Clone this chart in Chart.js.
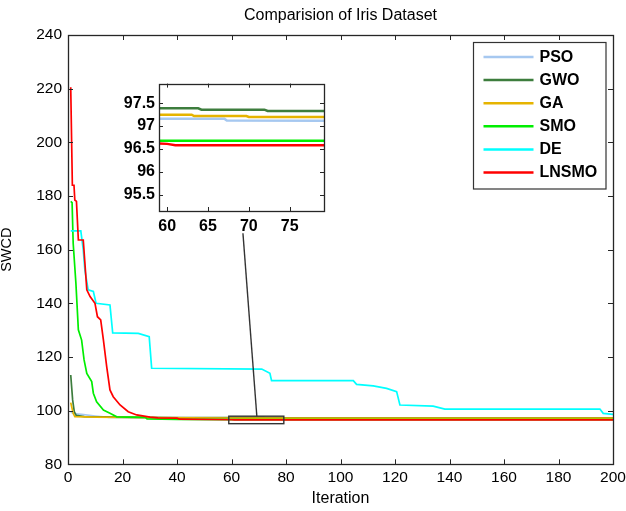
<!DOCTYPE html>
<html><head><meta charset="utf-8">
<script src="https://cdn.jsdelivr.net/npm/chart.js@4.4.0/dist/chart.umd.min.js"></script>
<style>
html,body{margin:0;padding:0;background:#fff;}
#wrap{position:relative;width:626px;height:511px;overflow:hidden;}
#main{position:absolute;left:0;top:0;}
#inset{position:absolute;left:100px;top:70px;}
</style></head><body>
<div id="wrap"><canvas id="main" width="626" height="511"></canvas><canvas id="inset" width="235" height="172"></canvas></div>
<script>
// ---- data ----
const seriesNames  = ['PSO','GWO','GA','SMO','DE','LNSMO'];
const seriesColors = ['#a6c8f0','#3d7d3d','#e6b400','#00ee00','#00ffff','#ff0000'];

const psoIter = [1,2,5,10,15,25,59,67,67.3,200];
const psoVal  = [99.6,98.9,98.6,98.0,97.5,97.3,97.16,97.16,97.12,97.1];

const gwoIter = [1,1.7,2.3,3,6,20,40,59,63.8,64.2,71.9,72.3,200];
const gwoVal  = [113.3,104,99.6,98.2,97.8,97.6,97.45,97.39,97.39,97.36,97.36,97.33,97.3];

const gaIter = [1,1.9,2.5,10,30,59,63,63.3,69.7,70,200];
const gaVal  = [103,99,97.8,97.6,97.4,97.25,97.25,97.22,97.22,97.2,97.18];

const smoIter = [1,1.5,1.9,2.9,3.8,5,5.9,6.9,8.7,9.3,10.5,13,15.4,17.9,22,28.4,29,40,59,200];
const smoVal  = [178,177.5,162.4,147.5,130.1,126.3,118.9,113.9,110.8,106.5,103.3,100.2,99,97.7,97.6,97.5,96.9,96.75,96.68,96.66];

const deIter = [1,4.7,5.6,6.2,7.4,9.3,10.3,15.4,16.4,25.8,29.8,30.7,71.1,74.1,74.7,104.7,105.9,112,116.9,120.6,121.8,134,138.3,195.2,196.4,200];
const deVal  = [167,167,159.9,152.4,145,144.4,140,139.4,129,128.8,127.6,115.8,115.5,113.9,111.2,111.2,109.8,109.2,108.3,107.1,102.1,101.7,100.6,100.6,99,98.6];

const lnsmoIter = [1,1.6,2.2,2.5,3.1,3.8,5.6,6.9,8.1,9.9,10.8,12,13,14.2,15.4,16.6,19.1,22.1,25.2,30.1,33,40,41,60,61,200];
const lnsmoVal  = [220.5,184,184,178.5,178,163.6,163.6,145,142.5,140,135,133.8,126.3,116.4,107.7,105.2,102.1,99.6,98.4,97.6,97.3,97.2,96.8,96.61,96.58,96.56];

const mainXTicks  = [0,20,40,60,80,100,120,140,160,180,200];
const mainYTicks  = [80,100,120,140,160,180,200,220,240];
const insetXTicks = [60,65,70,75];
const insetYTicks = [95.5,96,96.5,97,97.5];

const mainRange  = {xMin:0, xMax:200, yMin:80, yMax:240};
const insetRange = {xMin:59, xMax:79.2, yMin:95.14, yMax:97.93};
const connector  = {x0:69.3, y0:97.93, x1:64.2, y1:166.1};

const allIter = [psoIter,gwoIter,gaIter,smoIter,deIter,lnsmoIter];
const allVal  = [psoVal,gwoVal,gaVal,smoVal,deVal,lnsmoVal];

const FAMILY = "'Liberation Sans', Arial, sans-serif";
const AXIS = '#262626';

function makeDatasets(width){
  return seriesNames.map((n,i)=>({
    label:n,
    data: allIter[i].map((x,j)=>({x:x,y:allVal[i][j]})),
    borderColor: seriesColors[i],
    backgroundColor: seriesColors[i],
    borderWidth: width,
    pointRadius: 0,
    tension: 0,
    fill: false,
    order: 5 - i
  }));
}

function framePlugin(len){
  return {
    id:'frame'+len,
    afterDatasetsDraw(chart){
      const {ctx, chartArea:a, scales:{x,y}} = chart;
      ctx.save();
      ctx.strokeStyle = AXIS; ctx.lineWidth = 1;
      ctx.beginPath();
      x.ticks.forEach(t=>{
        const p = Math.round(x.getPixelForValue(t.value))+0.5;
        ctx.moveTo(p,a.bottom); ctx.lineTo(p,a.bottom-len);
        ctx.moveTo(p,a.top); ctx.lineTo(p,a.top+len);
      });
      y.ticks.forEach(t=>{
        const p = Math.round(y.getPixelForValue(t.value))+0.5;
        ctx.moveTo(a.left,p); ctx.lineTo(a.left+len,p);
        ctx.moveTo(a.right,p); ctx.lineTo(a.right-len,p);
      });
      ctx.stroke();
      ctx.lineWidth = 1.3;
      ctx.strokeRect(Math.round(a.left)+0.5, Math.round(a.top)+0.5, Math.round(a.right-a.left), Math.round(a.bottom-a.top));
      ctx.restore();
    }
  };
}

const zoomPlugin = {
  id:'zoomMark',
  afterDatasetsDraw(chart){
    const {ctx, scales:{x,y}} = chart;
    ctx.save();
    ctx.strokeStyle = '#333'; ctx.lineWidth = 1.4;
    const l = x.getPixelForValue(insetRange.xMin), r = x.getPixelForValue(insetRange.xMax);
    const t = y.getPixelForValue(insetRange.yMax), b = y.getPixelForValue(insetRange.yMin);
    ctx.strokeRect(l, t, r-l, b-t);
    ctx.beginPath();
    ctx.moveTo(x.getPixelForValue(connector.x0), y.getPixelForValue(connector.y0));
    ctx.lineTo(x.getPixelForValue(connector.x1), y.getPixelForValue(connector.y1));
    ctx.stroke();
    ctx.restore();
  }
};

const legendPlugin = {
  id:'boxLegend',
  afterDraw(chart){
    const {ctx, chartArea:a} = chart;
    const w = 132.5, h = 146.5;
    const bx = a.right - 7 - w, by = a.top + 7.5;
    ctx.save();
    ctx.fillStyle = '#fff';
    ctx.fillRect(bx, by, w, h);
    ctx.strokeStyle = '#333'; ctx.lineWidth = 1.2;
    ctx.strokeRect(bx, by, w, h);
    ctx.font = "bold 16px " + FAMILY;
    ctx.textBaseline = 'middle';
    ctx.textAlign = 'left';
    chart.data.datasets.forEach((ds,i)=>{
      const yy = by + 14.5 + i*23.1;
      ctx.strokeStyle = ds.borderColor; ctx.lineWidth = 2.5;
      ctx.beginPath(); ctx.moveTo(bx+10, yy); ctx.lineTo(bx+60, yy); ctx.stroke();
      ctx.fillStyle = '#000';
      ctx.fillText(ds.label, bx+66, yy+0.5);
    });
    ctx.restore();
  }
};

new Chart(document.getElementById('main'), {
  type:'line',
  data:{datasets: makeDatasets(1.7)},
  options:{
    responsive:false, animation:false, devicePixelRatio:1,
    layout:{padding:{left:0,right:13,top:0,bottom:0}},
    plugins:{
      legend:{display:false}, tooltip:{enabled:false},
      title:{display:true, text:'Comparision of Iris Dataset', fullSize:false, color:'#000',
        font:{family:FAMILY, size:16, weight:'normal', lineHeight:1.2}, padding:{top:5.8,bottom:10}}
    },
    scales:{
      x:{type:'linear', min:mainRange.xMin, max:mainRange.xMax,
        grid:{display:false, drawTicks:false}, border:{display:false},
        afterBuildTicks:s=>{s.ticks = mainXTicks.map(v=>({value:v}));},
        afterFit:s=>{s.height = 46.7; s.paddingLeft = 0; s.paddingRight = 0;},
        ticks:{autoSkip:false, maxRotation:0, padding:4, color:'#000', font:{family:FAMILY,size:15.5}, callback:v=>String(v)},
        title:{display:true, text:'Iteration', color:'#000', font:{family:FAMILY,size:16,lineHeight:1}, padding:{top:0,bottom:4}}
      },
      y:{type:'linear', min:mainRange.yMin, max:mainRange.yMax,
        grid:{display:false, drawTicks:false}, border:{display:false},
        afterBuildTicks:s=>{s.ticks = mainYTicks.map(v=>({value:v}));},
        afterFit:s=>{s.width = 68;},
        ticks:{autoSkip:false, padding:6, color:'#000', font:{family:FAMILY,size:15.5}, callback:v=>String(v)},
        title:{display:true, text:'SWCD', color:'#000', font:{family:FAMILY,size:14.5,lineHeight:1}, padding:{top:0,bottom:0}}
      }
    }
  },
  plugins:[framePlugin(5), zoomPlugin, legendPlugin]
});

const insetBg = {
  id:'insetBg',
  beforeDatasetsDraw(chart){
    const {ctx, chartArea:a} = chart;
    ctx.save(); ctx.fillStyle='#fff'; ctx.fillRect(a.left,a.top,a.right-a.left,a.bottom-a.top); ctx.restore();
  }
};

new Chart(document.getElementById('inset'), {
  type:'line',
  data:{datasets: makeDatasets(2.5)},
  options:{
    responsive:false, animation:false, devicePixelRatio:1,
    layout:{padding:{left:0,right:11,top:11,bottom:0}},
    plugins:{legend:{display:false}, tooltip:{enabled:false}, title:{display:false}},
    scales:{
      x:{type:'linear', min:insetRange.xMin, max:insetRange.xMax,
        grid:{display:false, drawTicks:false}, border:{display:false},
        afterBuildTicks:s=>{s.ticks = insetXTicks.map(v=>({value:v}));},
        afterFit:s=>{s.height = 31; s.paddingLeft = 0; s.paddingRight = 0;},
        ticks:{autoSkip:false, maxRotation:0, padding:6, color:'#000', font:{family:FAMILY,size:16,weight:'bold'}, callback:v=>String(v)}
      },
      y:{type:'linear', min:insetRange.yMin, max:insetRange.yMax,
        grid:{display:false, drawTicks:false}, border:{display:false},
        afterBuildTicks:s=>{s.ticks = insetYTicks.map(v=>({value:v}));},
        afterFit:s=>{s.width = 59;},
        ticks:{autoSkip:false, padding:4, color:'#000', font:{family:FAMILY,size:16,weight:'bold'}, callback:v=>String(v)}
      }
    }
  },
  plugins:[insetBg, framePlugin(4)]
});
</script>
</body></html>
